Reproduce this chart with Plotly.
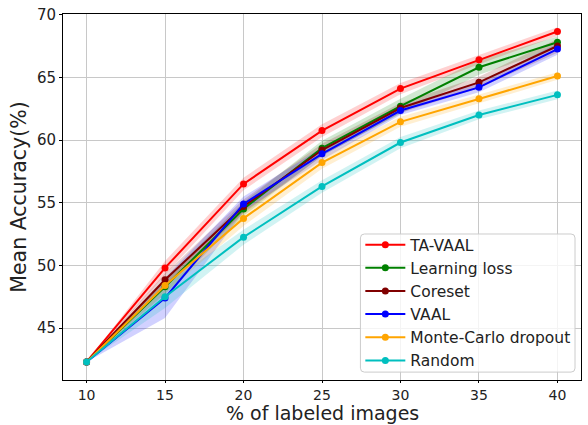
import plotly.graph_objects as go

# Percentage of labeled images at each active-learning cycle
labeled_pct = [10, 15, 20, 25, 30, 35, 40]

# Mean accuracy (%) per method
ta_vaal = [42.3, 49.8, 56.5, 60.75, 64.1, 66.4, 68.65]
learning_loss = [42.3, 48.3, 54.5, 59.35, 62.7, 65.8, 67.8]
coreset = [42.3, 48.85, 54.7, 59.2, 62.55, 64.6, 67.5]
vaal = [42.3, 47.4, 54.9, 58.9, 62.35, 64.2, 67.25]
mc_dropout = [42.3, 48.4, 53.75, 58.2, 61.45, 63.3, 65.1]
random_sampling = [42.3, 47.5, 52.25, 56.3, 59.8, 62.0, 63.6]

# Standard deviation across runs (shaded bands)
ta_vaal_std = [0.0, 0.55, 0.5, 0.5, 0.45, 0.35, 0.35]
learning_loss_std = [0.0, 0.6, 0.55, 0.6, 0.6, 0.6, 0.45]
coreset_std = [0.0, 0.5, 0.55, 0.5, 0.4, 0.45, 0.55]
vaal_std = [0.0, 1.6, 0.6, 0.5, 0.35, 0.4, 0.45]
mc_dropout_std = [0.0, 0.6, 0.6, 0.5, 0.4, 0.35, 0.3]
random_std = [0.0, 0.9, 0.6, 0.5, 0.45, 0.35, 0.35]

series = [
    ("TA-VAAL", ta_vaal, ta_vaal_std, "#ff0000", "rgba(255,0,0,0.18)"),
    ("Learning loss", learning_loss, learning_loss_std, "#008000", "rgba(0,128,0,0.18)"),
    ("Coreset", coreset, coreset_std, "#800000", "rgba(128,0,0,0.18)"),
    ("VAAL", vaal, vaal_std, "#0000ff", "rgba(0,0,255,0.18)"),
    ("Monte-Carlo dropout", mc_dropout, mc_dropout_std, "#ffa500", "rgba(255,165,0,0.18)"),
    ("Random", random_sampling, random_std, "#00bfbf", "rgba(0,191,191,0.18)"),
]

fig = go.Figure()

for name, mean, std, color, fill in series:
    upper = [m + s for m, s in zip(mean, std)]
    lower = [m - s for m, s in zip(mean, std)]
    fig.add_trace(go.Scatter(
        x=labeled_pct + labeled_pct[::-1],
        y=upper + lower[::-1],
        fill="toself", fillcolor=fill,
        line=dict(width=0), mode="lines",
        hoverinfo="skip", showlegend=False,
    ))

for name, mean, std, color, fill in series:
    fig.add_trace(go.Scatter(
        x=labeled_pct, y=mean, name=name,
        mode="lines+markers",
        line=dict(color=color, width=2),
        marker=dict(color=color, size=7),
    ))

axis_common = dict(
    showline=True, linecolor="black", linewidth=1, mirror=True,
    showgrid=True, gridcolor="#c8c8c8", gridwidth=1,
    ticks="outside", tickcolor="black",
    zeroline=False,
)

W, H = 588, 425
ML, MR, MT, MB = 63, 6, 9, 45

# Legend frame (rounded box behind the legend entries), in pixels
x0, x1, y0, y1, r = 361, 576, 232, 372, 4
pw, ph = W - ML - MR, H - MT - MB


def to_paper(px, py):
    return f"{(px - ML) / pw:.5f},{(H - MB - py) / ph:.5f}"


frame_path = (
    f"M{to_paper(x0 + r, y0)} L{to_paper(x1 - r, y0)} Q{to_paper(x1, y0)} {to_paper(x1, y0 + r)} "
    f"L{to_paper(x1, y1 - r)} Q{to_paper(x1, y1)} {to_paper(x1 - r, y1)} L{to_paper(x0 + r, y1)} "
    f"Q{to_paper(x0, y1)} {to_paper(x0, y1 - r)} L{to_paper(x0, y0 + r)} Q{to_paper(x0, y0)} {to_paper(x0 + r, y0)} Z"
)

fig.update_layout(
    width=W, height=H,
    margin=dict(l=ML, r=MR, t=MT, b=MB),
    paper_bgcolor="white", plot_bgcolor="white",
    font=dict(family="DejaVu Sans", color="#222222"),
    xaxis=dict(
        range=[8.5, 41.5], tickvals=[10, 15, 20, 25, 30, 35, 40],
        tickfont=dict(family="DejaVu Sans", size=14, color="#222222"),
        ticklen=2,
        **axis_common,
    ),
    yaxis=dict(
        range=[40.86, 70.05], tickvals=[45, 50, 55, 60, 65, 70],
        tickfont=dict(family="DejaVu Sans", size=15, color="#222222"),
        ticklen=3,
        title=dict(text="Mean Accuracy(%)", font=dict(size=20.5), standoff=4),
        **axis_common,
    ),
    annotations=[dict(
        text="% of labeled images", xref="paper", yref="paper",
        x=0.5, y=0, xanchor="center", yanchor="bottom", yshift=-MB - 1,
        showarrow=False, font=dict(family="DejaVu Sans", size=19, color="#222222"),
    )],
    shapes=[dict(
        type="path", path=frame_path, xref="paper", yref="paper",
        layer="above", line=dict(color="#cccccc", width=1),
        fillcolor="rgba(255,255,255,0.8)",
    )],
    legend=dict(
        x=0.574, y=0.008, xanchor="left", yanchor="bottom",
        bgcolor="rgba(0,0,0,0)", borderwidth=0,
        font=dict(family="DejaVu Sans", size=15.5, color="#222222"),
        itemwidth=40, tracegroupgap=0,
    ),
)

fig.write_html("out.html")
